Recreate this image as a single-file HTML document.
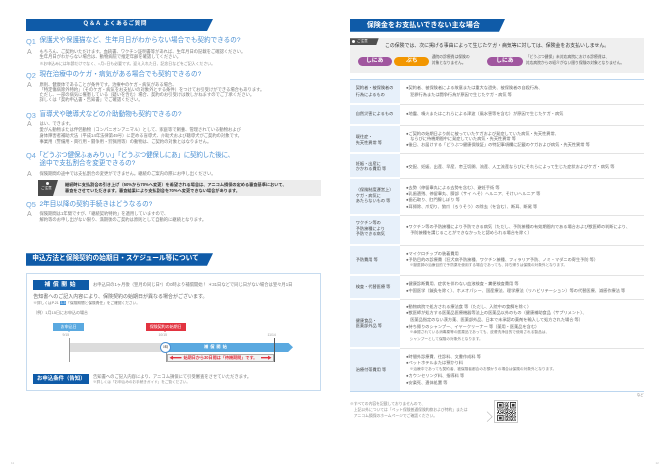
<!DOCTYPE html>
<html><head><meta charset="utf-8">
<style>
*{margin:0;padding:0;box-sizing:border-box}
html,body{width:670px;height:474px;background:#fff;overflow:hidden}
body{position:relative;font-family:"Liberation Sans","Noto Sans CJK JP",sans-serif;color:#666}
.t{position:absolute;white-space:nowrap;line-height:1}
.abs{position:absolute}
.qn{font-size:7.4px;color:#6fa8de}
.q{font-size:6.6px;color:#4a8fd2}
.am{font-size:7px;color:#a0a0a0}
.a{font-size:4.3px;color:#777}
.an{font-size:3.9px;color:#888}
.hdr{position:absolute;background:#0f5ba8;clip-path:polygon(0 0,100% 0,calc(100% - 6px) 100%,0 100%)}
.hdrt{position:absolute;white-space:nowrap;line-height:1;color:#fff;font-weight:bold}
.lbl{position:absolute;background:#0f5ba8;color:#fff;font-weight:bold;text-align:center;line-height:10px;white-space:nowrap}
.rl{font-size:4.2px;color:#444}
.rc{font-size:4.2px;color:#666}
.rn{font-size:3.7px;color:#777}
.lc{position:absolute;left:349.7px;width:50.3px;background:#e7f0fa}
.sep{position:absolute;left:400px;width:244.3px;height:0.7px;background:#e3e3e3}
.pill{position:absolute;height:9px;border-radius:4.5px;color:#fff;font-weight:bold;font-size:5.8px;line-height:9px;text-align:center}
</style></head><body>

<!-- ================= LEFT PAGE ================= -->
<div class="hdr" style="left:26px;top:19px;width:187px;height:12px"></div>
<div class="hdrt" style="left:83px;top:22.2px;font-size:5.6px;letter-spacing:0.6px">Ｑ＆Ａ よくあるご質問</div>

<!-- Q1 -->
<div class="t qn" style="left:26px;top:37.8px">Q1</div>
<div class="t q" style="left:39.5px;top:38.2px">保護犬や保護猫など、生年月日がわからない場合でも契約できるの?</div>
<div class="t am" style="left:27px;top:48.5px">A</div>
<div class="t a" style="left:39.5px;top:49.6px">もちろん、ご契約いただけます。血統書、ワクチン証明書等があれば、生年月日の記載をご確認ください。</div>
<div class="t a" style="left:39.5px;top:54.6px">生年月日がわからない場合は、動物病院で推定年齢を確認してください。</div>
<div class="t an" style="left:39.5px;top:61.8px">※お申込みには年齢だけでなく、○月○日も必要です。迎え入れた日、記念日などをご記入ください。</div>

<!-- Q2 -->
<div class="t qn" style="left:26px;top:72px">Q2</div>
<div class="t q" style="left:39.5px;top:72.4px">現在治療中のケガ・病気がある場合でも契約できるの?</div>
<div class="t am" style="left:27px;top:81.5px">A</div>
<div class="t a" style="left:39.5px;top:82.6px">原則、健康体であることが条件です。治療中のケガ・病気がある場合、</div>
<div class="t a" style="left:39.5px;top:87.8px">「特定傷病除外特約」（そのケガ・病気をお支払いの対象外とする条件）をつけてお引受けができる場合もあります。</div>
<div class="t a" style="left:39.5px;top:93px">ただし、一部の病気に罹患している（疑いを含む）場合、契約のお引受けは致しかねますのでご了承ください。</div>
<div class="t a" style="left:39.5px;top:98.2px">詳しくは「契約申込書・告知書」でご確認ください。</div>

<!-- Q3 -->
<div class="t qn" style="left:26px;top:112px">Q3</div>
<div class="t q" style="left:39.5px;top:112.4px">盲導犬や聴導犬などの介助動物も契約できるの?</div>
<div class="t am" style="left:27px;top:121px">A</div>
<div class="t a" style="left:39.5px;top:122px">はい、できます。</div>
<div class="t a" style="left:39.5px;top:128px">愛がん動物または伴侶動物（コンパニオンアニマル）として、家庭等で飼養、管理されている動物および</div>
<div class="t a" style="left:39.5px;top:134px">身体障害者補助犬法（平成14年法律第49号）に定める盲導犬、介助犬および聴導犬がご契約の対象です。</div>
<div class="t a" style="left:39.5px;top:140px">事業用（警備用・興行用・闘争用・狩猟用等）の動物は、ご契約の対象とはなりません。</div>

<!-- Q4 -->
<div class="t qn" style="left:26px;top:152.3px">Q4</div>
<div class="t q" style="left:36px;top:152.7px;letter-spacing:-0.3px">「どうぶつ健保ふぁみりぃ」「どうぶつ健保しにあ」に契約した後に、</div>
<div class="t q" style="left:39.5px;top:161px">途中で支払割合を変更できるの?</div>
<div class="t am" style="left:27px;top:170.8px">A</div>
<div class="t a" style="left:39.5px;top:171.9px">保険期間の途中では支払割合の変更ができません。継続のご案内の際にお申し出ください。</div>
<div class="abs" style="left:38px;top:180px;width:282.7px;height:16px;background:#ececec"></div>
<div class="abs" style="left:38px;top:180px;width:20px;height:16px;background:#4a4a4a;clip-path:polygon(0 0,100% 0,75% 100%,0 100%)"></div>
<div class="abs" style="left:45.8px;top:181.6px;width:3.6px;height:3.6px;border-radius:50%;background:#fff"></div>
<div class="t" style="left:41px;top:187.3px;font-size:3.6px;color:#fff">ご注意</div>
<div class="t" style="left:65px;top:183.2px;font-size:4.2px;color:#333;font-weight:bold">継続時に支払割合の引き上げ（50%から70%へ変更）を希望される場合は、アニコム損保の定める審査基準において、</div>
<div class="t" style="left:65px;top:188.6px;font-size:4.2px;color:#333;font-weight:bold">審査をさせていただきます。審査結果により支払割合を70%へ変更できない場合があります。</div>

<!-- Q5 -->
<div class="t qn" style="left:26px;top:201.3px">Q5</div>
<div class="t q" style="left:39.5px;top:201.7px">2年目以降の契約手続きはどうなるの?</div>
<div class="t am" style="left:27px;top:211px">A</div>
<div class="t a" style="left:39.5px;top:212.2px">保険期間は1年間ですが、「継続契約特約」を適用していますので、</div>
<div class="t a" style="left:39.5px;top:218.2px">解約等のお申し出がない限り、満期後のご契約は原則として自動的に継続となります。</div>

<!-- Section 2 -->
<div class="hdr" style="left:26px;top:253.3px;width:187px;height:12.4px"></div>
<div class="hdrt" style="left:32.3px;top:256.2px;font-size:6.7px">申込方法と保険契約の始期日・スケジュール等について</div>
<div class="abs" style="left:25.7px;top:273.3px;width:295px;height:117.7px;border:1px solid #c6dbef"></div>

<div class="lbl" style="left:33.3px;top:280px;width:56px;height:10px;font-size:5.8px;letter-spacing:2.6px">補償開始</div>
<div class="t a" style="left:93px;top:282.9px;font-size:4.3px">お申込日の1ヶ月後（翌月の同じ日*）の0時より補償開始！ ＊31日などで同じ日がない場合は翌々月1日</div>
<div class="t" style="left:33.3px;top:294.8px;font-size:5px;color:#666">告知書へのご記入内容により、保険契約の始期日が異なる場合がございます。</div>
<div class="t" style="left:33.3px;top:302.2px;font-size:3.7px;color:#777">※詳しくはP.21 <span style="background:#3f8fd6;color:#fff;padding:0 0.5px">3-5</span>「保険期間と保険責任」をご確認ください。</div>
<div class="t" style="left:33.3px;top:310.7px;font-size:4px;color:#777">（例）1月15日にお申込の場合</div>

<!-- timeline -->
<div class="abs" style="left:53.3px;top:323.3px;width:30.7px;height:7.4px;background:#5aa9e0;color:#fff;font-size:4px;line-height:7.4px;text-align:center;white-space:nowrap">お申込日</div>
<div class="abs" style="left:67.5px;top:330.6px;width:0;height:0;border-left:1.5px solid transparent;border-right:1.5px solid transparent;border-top:1.6px solid #5aa9e0"></div>
<div class="abs" style="left:145.7px;top:323.3px;width:40px;height:7.4px;background:#e23340;color:#fff;font-size:4px;line-height:7.4px;text-align:center;white-space:nowrap">保険契約の始期日</div>
<div class="abs" style="left:164.2px;top:330.6px;width:0;height:0;border-left:1.5px solid transparent;border-right:1.5px solid transparent;border-top:1.6px solid #e23340"></div>
<div class="t" style="left:62.5px;top:333.6px;font-size:3.4px;color:#999">9/15</div>
<div class="t" style="left:158.5px;top:333.6px;font-size:3.4px;color:#999">10/15</div>
<div class="t" style="left:267.5px;top:333.6px;font-size:3.4px;color:#999">11/14</div>
<div class="abs" style="left:69px;top:342.5px;width:97px;height:9.6px;background:#dcdcdc"></div>
<div class="abs" style="left:166px;top:342.5px;width:127px;height:9.6px;background:#5aa9e0;clip-path:polygon(0 0,calc(100% - 5px) 0,100% 50%,calc(100% - 5px) 100%,0 100%)"></div>
<div class="t" style="left:204px;top:345.3px;font-size:4.2px;color:#fff;font-weight:bold;letter-spacing:2px">補償開始</div>
<div class="abs" style="left:68.5px;top:338px;width:1px;height:24px;background:#9a9a9a"></div>
<div class="abs" style="left:273.8px;top:338px;width:1px;height:24px;background:#555"></div>
<div class="abs" style="left:165.7px;top:352px;width:0.8px;height:10px;background:#999"></div>
<div class="abs" style="left:159.9px;top:341.6px;width:11.2px;height:11.2px;border-radius:50%;background:#fff;border:1px solid #4a8fd2;font-size:3.4px;line-height:9.2px;text-align:center;color:#555">0時</div>
<div class="abs" style="left:166.5px;top:353.6px;width:107.5px;height:8px;background:#f2f2f2;border:0.6px solid #aaa"></div>
<svg class="abs" style="left:0;top:0" width="670" height="474">
  <polygon points="169.5,357.7 173,355.6 173,357 181.5,357 181.5,358.4 173,358.4 173,359.8" fill="#e23340"/>
  <polygon points="271.5,357.7 268,355.6 268,357 261,357 261,358.4 268,358.4 268,359.8" fill="#e23340"/>
  <polyline points="487,411.7 492.2,416.7 487,421.7" fill="none" stroke="#b0b0b0" stroke-width="0.6"/>
</svg>
<div class="t" style="left:183.5px;top:355.7px;font-size:4.1px;color:#e23340;font-weight:bold">始期日から30日間は「待機期間」です。</div>

<div class="lbl" style="left:33.3px;top:374px;width:56px;height:10.3px;font-size:5.4px;line-height:10.3px">お申込条件（告知）</div>
<div class="t a" style="left:93px;top:375.2px;font-size:4.3px">告知書へのご記入内容により、アニコム損保にて引受審査をさせていただきます。</div>
<div class="t" style="left:93px;top:380.5px;font-size:3.6px;color:#888">※詳しくは「お申込みのお手続きガイド」をご覧ください。</div>

<div class="t" style="left:11px;top:461.5px;font-size:3px;color:#bbb">11</div>

<!-- ================= RIGHT PAGE ================= -->
<div class="hdr" style="left:349.7px;top:19px;width:155.3px;height:12.7px"></div>
<div class="hdrt" style="left:366.7px;top:21.8px;font-size:7.1px">保険金をお支払いできない主な場合</div>

<div class="abs" style="left:349.7px;top:38.3px;width:294.6px;height:34.4px;background:#efefef"></div>
<div class="abs" style="left:349.7px;top:38.3px;width:29px;height:6.9px;background:#505050;clip-path:polygon(0 0,100% 0,calc(100% - 2.5px) 100%,0 100%)"></div>
<div class="abs" style="left:351.8px;top:39.9px;width:3.6px;height:3.6px;border-radius:50%;background:#fff"></div>
<div class="t" style="left:357px;top:40px;font-size:3.6px;color:#fff">ご注意</div>
<div class="t" style="left:385px;top:45.2px;font-size:4.9px;color:#333">この保険では、次に掲げる事由によって生じたケガ・病気等に対しては、保険金をお支払いしません。</div>
<div class="pill" style="left:357.7px;top:56.7px;width:34px;background:#a0569f">しにあ</div>
<div class="pill" style="left:394.3px;top:56.7px;width:35px;background:#f29600">ぷち</div>
<div class="t" style="left:431.7px;top:55.8px;font-size:3.8px;color:#555">通院の診療費は保険の</div>
<div class="t" style="left:431.7px;top:61.8px;font-size:3.8px;color:#555">対象となりません。</div>
<div class="pill" style="left:487px;top:56.7px;width:35.7px;background:#a0569f">しにあ</div>
<div class="t" style="left:525.7px;top:55.8px;font-size:3.8px;color:#555">「どうぶつ健保」未対応病院における診療費は、</div>
<div class="t" style="left:525.7px;top:61.8px;font-size:3.8px;color:#555">対応病院からの紹介がない限り保険の対象となりません。</div>

<!-- table -->
<div class="lc" style="top:79.3px;height:24px"></div>
<div class="lc" style="top:105px;height:19px"></div>
<div class="lc" style="top:126px;height:25.7px"></div>
<div class="lc" style="top:153.7px;height:23.6px"></div>
<div class="lc" style="top:179.3px;height:35px"></div>
<div class="lc" style="top:216.3px;height:27.7px"></div>
<div class="lc" style="top:246px;height:28px"></div>
<div class="lc" style="top:276px;height:22px"></div>
<div class="lc" style="top:300px;height:47.3px"></div>
<div class="lc" style="top:349.3px;height:41.7px"></div>
<div class="abs" style="left:349.7px;top:78.8px;width:294.6px;height:1.3px;background:#bcd6ef"></div>
<div class="abs" style="left:349.7px;top:390.5px;width:294.6px;height:1.2px;background:#bcd6ef"></div>
<div class="sep" style="top:103.8px"></div>
<div class="sep" style="top:124.8px"></div>
<div class="sep" style="top:152.5px"></div>
<div class="sep" style="top:178.1px"></div>
<div class="sep" style="top:215.1px"></div>
<div class="sep" style="top:244.8px"></div>
<div class="sep" style="top:274.8px"></div>
<div class="sep" style="top:298.8px"></div>
<div class="sep" style="top:348.1px"></div>

<!-- R1 -->
<div class="t rl" style="left:355.7px;top:86.2px">契約者・被保険者の</div>
<div class="t rl" style="left:355.7px;top:92.9px">行為によるもの</div>
<div class="t rc" style="left:406px;top:86.2px">●契約者、被保険者による故意または重大な過失、被保険者の自殺行為、</div>
<div class="t rc" style="left:406px;top:92.9px">　犯罪行為または闘争行為が原因で生じたケガ・病気 等</div>
<!-- R2 -->
<div class="t rl" style="left:355.7px;top:112.2px">自然災害によるもの</div>
<div class="t rc" style="left:406px;top:112.2px">●地震、噴火またはこれらによる津波（風水害等を含む）が原因で生じたケガ・病気</div>
<!-- R3 -->
<div class="t rl" style="left:355.7px;top:134.8px">既往症・</div>
<div class="t rl" style="left:355.7px;top:140.8px">先天性異常 等</div>
<div class="t rc" style="left:406px;top:131.9px">●ご契約の始期日より前に被っていたケガおよび発症していた病気・先天性異常、</div>
<div class="t rc" style="left:406px;top:136.9px">　ならびに待機期間中に発症していた病気・先天性異常 等</div>
<div class="t rc" style="left:406px;top:143.2px">●後日、お届けする「どうぶつ健康保険証」の特記事項欄に記載のケガおよび病気・先天性異常 等</div>
<!-- R4 -->
<div class="t rl" style="left:355.7px;top:161.6px">妊娠・出産に</div>
<div class="t rl" style="left:355.7px;top:167.3px">かかわる費用 等</div>
<div class="t rc" style="left:406px;top:164.9px">●交配、妊娠、出産、早産、帝王切開、流産、人工流産ならびにそれらによって生じた症状およびケガ・病気 等</div>
<!-- R5 -->
<div class="t rl" style="left:355.7px;top:187.9px">（保険制度運営上）</div>
<div class="t rl" style="left:355.7px;top:193.6px">ケガ・病気に</div>
<div class="t rl" style="left:355.7px;top:199.2px">あたらないもの 等</div>
<div class="t rc" style="left:406px;top:185.6px">●去勢（停留睾丸による去勢を含む）、避妊手術 等</div>
<div class="t rc" style="left:406px;top:191.6px">●乳歯遺残、停留睾丸、臍部（サイ へそ）ヘルニア、そけいヘルニア 等</div>
<div class="t rc" style="left:406px;top:197.6px">●歯石取り、肛門腺しぼり 等</div>
<div class="t rc" style="left:406px;top:204.6px">●耳掃除、爪切り、狼爪（ろうそう）の除去（を含む）、断耳、断尾 等</div>
<!-- R6 -->
<div class="t rl" style="left:355.7px;top:221.2px">ワクチン等の</div>
<div class="t rl" style="left:355.7px;top:226.9px">予防接種により</div>
<div class="t rl" style="left:355.7px;top:232.4px">予防できる病気</div>
<div class="t rc" style="left:406px;top:225.4px">●ワクチン等の予防接種により予防できる病気（ただし、予防接種の有効期間内である場合および獣医師の判断により、</div>
<div class="t rc" style="left:406px;top:231.4px">　予防接種を講じることができなかったと認められる場合を除く）</div>
<!-- R7 -->
<div class="t rl" style="left:355.7px;top:257.6px">予防費用 等</div>
<div class="t rc" style="left:406px;top:252.2px">●マイクロチップの装着費用</div>
<div class="t rc" style="left:406px;top:257.6px">●予防目的の診療費（狂犬病予防接種、ワクチン接種、フィラリア予防、ノミ・マダニの寄生予防 等）</div>
<div class="t rn" style="left:406px;top:263.7px">　※獣医師の治療目的で予防薬を使用する場合であっても、持ち帰りは保険の対象外となります。</div>
<!-- R8 -->
<div class="t rl" style="left:355.7px;top:285.4px">検査・代替医療 等</div>
<div class="t rc" style="left:406px;top:282.2px">●健康診断費用、症状を伴わない血液検査・糞便検査費用 等</div>
<div class="t rc" style="left:406px;top:288.6px">●中国医学（鍼灸を除く）、ホメオパシー、国産療法、理学療法（リハビリテーション）等の代替医療、減感作療法 等</div>
<!-- R9 -->
<div class="t rl" style="left:355.7px;top:318.6px">健康食品・</div>
<div class="t rl" style="left:355.7px;top:324.4px">医薬部外品 等</div>
<div class="t rc" style="left:406px;top:304.6px">●動物病院で処方される療法食 等（ただし、入院中の食餌を除く）</div>
<div class="t rc" style="left:406px;top:311.2px">●獣医師が処方する医薬品医療機器等法上の医薬品以外のもの（健康補助食品（サプリメント）、</div>
<div class="t rc" style="left:406px;top:317.9px">　医薬品指定のない漢方薬、医薬部外品、日本で未承認の薬剤を輸入して処方された場合 等）</div>
<div class="t rc" style="left:406px;top:324.6px">●持ち帰りのシャンプー、イヤークリーナー 等（薬用・医薬品を含む）</div>
<div class="t rn" style="left:406px;top:331.4px">　※承認されている消毒薬等の医薬品であっても、皮膚洗浄目的で使用される製品は、</div>
<div class="t rn" style="left:406px;top:338.1px">　シャンプーとして保険の対象外となります。</div>
<!-- R10 -->
<div class="t rl" style="left:355.7px;top:367.9px">治療付帯費用 等</div>
<div class="t rc" style="left:406px;top:354.6px">●時間外診療費、往診料、文書作成料 等</div>
<div class="t rc" style="left:406px;top:361.2px">●ペットホテルまたは預かり料</div>
<div class="t rn" style="left:406px;top:368px">　※治療中であっても契約者、被保険者都合のお預かりの場合は保険の対象外となります。</div>
<div class="t rc" style="left:406px;top:374.4px">●カウンセリング料、指導料 等</div>
<div class="t rc" style="left:406px;top:381px">●安楽死、遺体処置 等</div>

<div class="t" style="left:636.7px;top:394px;font-size:3.5px;color:#888">など</div>
<div class="t" style="left:350px;top:403.1px;font-size:3.8px;color:#888">※すべての内容を記載しておりませんので、</div>
<div class="t" style="left:350px;top:408.8px;font-size:3.8px;color:#888">　上記以外については「ペット保険普通保険約款および特約」または</div>
<div class="t" style="left:350px;top:414.8px;font-size:3.8px;color:#888">　アニコム損保のホームページでご確認ください。</div>

<!-- QR -->
<div class="abs" style="left:494.3px;top:400px;width:24px;height:23.3px;border:0.6px solid #ccc;background:#fff"></div>
<svg class="abs" style="left:496.5px;top:402px" width="19.6" height="19.3" viewBox="0 0 21 21">
  <defs>
    <pattern id="qp" width="5" height="4" patternUnits="userSpaceOnUse">
      <rect x="0" y="0" width="1" height="1" fill="#333"/>
      <rect x="2" y="0" width="2" height="1" fill="#333"/>
      <rect x="1" y="1" width="1" height="2" fill="#333"/>
      <rect x="3" y="2" width="1" height="1" fill="#333"/>
      <rect x="4" y="1" width="1" height="1" fill="#333"/>
      <rect x="0" y="3" width="2" height="1" fill="#333"/>
      <rect x="4" y="3" width="1" height="1" fill="#333"/>
    </pattern>
  </defs>
  <rect width="21" height="21" fill="url(#qp)"/>
  <g>
    <rect x="0" y="0" width="8" height="8" fill="#fff"/><rect x="0" y="0" width="7" height="7" fill="#333"/><rect x="1" y="1" width="5" height="5" fill="#fff"/><rect x="2" y="2" width="3" height="3" fill="#333"/>
    <rect x="13" y="0" width="8" height="8" fill="#fff"/><rect x="14" y="0" width="7" height="7" fill="#333"/><rect x="15" y="1" width="5" height="5" fill="#fff"/><rect x="16" y="2" width="3" height="3" fill="#333"/>
    <rect x="0" y="13" width="8" height="8" fill="#fff"/><rect x="0" y="14" width="7" height="7" fill="#333"/><rect x="1" y="15" width="5" height="5" fill="#fff"/><rect x="2" y="16" width="3" height="3" fill="#333"/>
  </g>
</svg>

<div class="t" style="left:655.5px;top:461.8px;font-size:3px;color:#bbb">12</div>
</body></html>
